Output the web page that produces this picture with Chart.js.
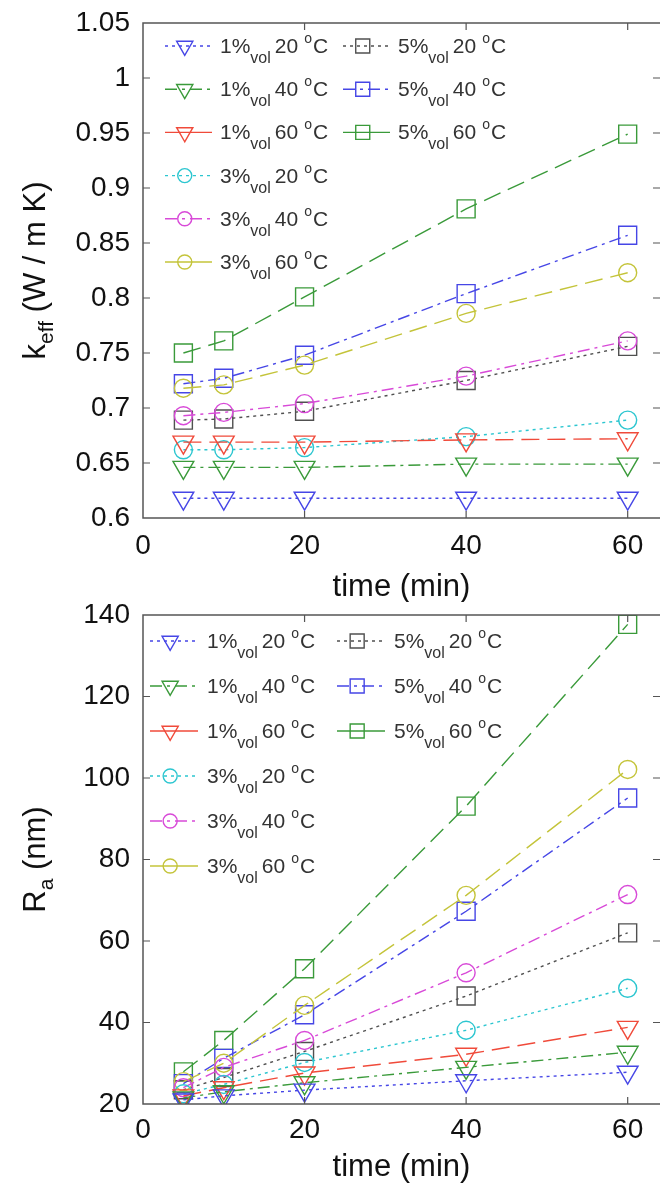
<!DOCTYPE html>
<html>
<head>
<meta charset="utf-8">
<script src="https://cdn.jsdelivr.net/npm/chart.js"></script>
<style>
  html, body { margin: 0; padding: 0; background: #fff; overflow: hidden; }
  body { width: 660px; height: 1188px; position: relative; }
  canvas { position: absolute; left: 0; }
  #keffChart { top: 0; }
  #raChart { top: 596px; }
</style>
</head>
<body>
<canvas id="keffChart" width="680" height="602"></canvas>
<canvas id="raChart" width="680" height="592"></canvas>
<script>
// sampling times (min) and legend pieces
const times = [5, 10, 20, 40, 60];
const concentrations = ['1%', '1%', '1%', '3%', '3%', '3%', '5%', '5%', '5%'];
const temperatures = ['20', '40', '60', '20', '40', '60', '20', '40', '60'];

const timeTicks = [0, 20, 40, 60];
const keffTicks = [0.6, 0.65, 0.7, 0.75, 0.8, 0.85, 0.9, 0.95, 1, 1.05];
const keffTickLabels = ['0.6', '0.65', '0.7', '0.75', '0.8', '0.85', '0.9', '0.95', '1', '1.05'];
const raTicks = [20, 40, 60, 80, 100, 120, 140];
const raTickLabels = ['20', '40', '60', '80', '100', '120', '140'];

// k_eff (W / m K)
const keff1_20 = [0.618, 0.618, 0.618, 0.618, 0.618];
const keff1_40 = [0.646, 0.646, 0.646, 0.649, 0.649];
const keff1_60 = [0.669, 0.669, 0.669, 0.671, 0.672];
const keff3_20 = [0.662, 0.662, 0.664, 0.674, 0.689];
const keff3_40 = [0.693, 0.696, 0.704, 0.729, 0.761];
const keff3_60 = [0.718, 0.721, 0.739, 0.786, 0.823];
const keff5_20 = [0.689, 0.690, 0.697, 0.725, 0.756];
const keff5_40 = [0.722, 0.727, 0.748, 0.804, 0.857];
const keff5_60 = [0.750, 0.761, 0.801, 0.881, 0.949];

// R_a (nm)
const ra1_20 = [21.0, 22.0, 23.4, 25.7, 27.8];
const ra1_40 = [21.5, 23.0, 25.2, 29.0, 32.7];
const ra1_60 = [22.0, 24.0, 27.6, 32.2, 38.8];
const ra3_20 = [22.5, 24.8, 30.2, 38.1, 48.4];
const ra3_40 = [24.0, 29.0, 35.6, 52.2, 71.4];
const ra3_60 = [25.5, 30.0, 44.2, 71.2, 102.1];
const ra5_20 = [23.5, 26.5, 32.9, 46.5, 62.0];
const ra5_40 = [25.0, 31.2, 41.9, 67.3, 95.1];
const ra5_60 = [27.9, 35.6, 53.2, 93.1, 137.7];

const blue = '#4646e6', green = '#3a9a3a', red = '#f04a3a', cyan = '#2cc6d0',
      magenta = '#d84ad8', yellow = '#c4c43a', gray = '#505050';
const dotted = [3, 4], dashDot = [12, 5, 3, 5], dashed = [18, 8];

const seriesStyles = [
  { color: blue, dash: dotted, legendDash: dotted, marker: 'triangle', rot: 180, r: 12 },
  { color: green, dash: dashDot, legendDash: dashDot, marker: 'triangle', rot: 180, r: 12 },
  { color: red, dash: dashed, legendDash: [], marker: 'triangle', rot: 180, r: 12 },
  { color: cyan, dash: dotted, legendDash: dotted, marker: 'circle', rot: 0, r: 9 },
  { color: magenta, dash: dashDot, legendDash: dashDot, marker: 'circle', rot: 0, r: 9 },
  { color: yellow, dash: dashed, legendDash: [], marker: 'circle', rot: 0, r: 9 },
  { color: gray, dash: dotted, legendDash: dotted, marker: 'rect', rot: 0, r: 12.7 },
  { color: blue, dash: dashDot, legendDash: dashDot, marker: 'rect', rot: 0, r: 12.7 },
  { color: green, dash: dashed, legendDash: [], marker: 'rect', rot: 0, r: 12.7 }
];

const FONT = 'Liberation Sans, Arial, Helvetica, sans-serif';

function makeSets(seriesList) {
  return seriesList.map((vals, i) => {
    const st = seriesStyles[i];
    return {
      label: concentrations[i] + 'vol ' + temperatures[i] + ' °C',
      pct: concentrations[i],
      temp: temperatures[i],
      legendDash: st.legendDash,
      data: times.map((t, j) => ({ x: t, y: vals[j] })),
      borderColor: st.color,
      borderWidth: 1.4,
      borderDash: st.dash,
      tension: 0,
      fill: false,
      pointStyle: st.marker,
      rotation: st.rot,
      pointRotation: st.rot,
      pointRadius: st.r,
      pointBorderWidth: 1.4,
      pointBorderColor: st.color,
      pointBackgroundColor: 'rgba(0,0,0,0)'
    };
  });
}

// axes box with inward ticks, matlab style
const framePlugin = {
  id: 'frame',
  afterDraw(chart) {
    const { ctx, chartArea: a, scales } = chart;
    const xs = scales.x, ys = scales.y;
    const tl = 7;
    ctx.save();
    ctx.strokeStyle = '#555';
    ctx.lineWidth = 1.5;
    ctx.beginPath();
    ctx.moveTo(a.right + 2, a.top); ctx.lineTo(a.left, a.top);
    ctx.lineTo(a.left, a.bottom); ctx.lineTo(a.right + 2, a.bottom);
    ctx.stroke();
    ctx.lineWidth = 1.2;
    ctx.beginPath();
    xs.ticks.forEach(t => {
      const px = xs.getPixelForValue(t.value);
      if (px <= a.left + 1) return;
      ctx.moveTo(px, a.bottom); ctx.lineTo(px, a.bottom - tl);
      ctx.moveTo(px, a.top); ctx.lineTo(px, a.top + tl);
    });
    ys.ticks.forEach(t => {
      const py = ys.getPixelForValue(t.value);
      if (py <= a.top + 1 || py >= a.bottom - 1) return;
      ctx.moveTo(a.left, py); ctx.lineTo(a.left + tl, py);
      ctx.moveTo(a.right, py); ctx.lineTo(a.right - tl, py);
    });
    ctx.stroke();
    ctx.restore();
  }
};

// legend with subscript "vol" and superscript "o"
const legendPlugin = {
  id: 'matLegend',
  afterDraw(chart, args, opts) {
    const { ctx } = chart;
    ctx.save();
    chart.data.datasets.forEach((ds, i) => {
      const col = i < opts.rows ? 0 : 1;
      const row = i < opts.rows ? i : i - opts.rows;
      const x0 = opts.x[col];
      const y = opts.y0 + row * opts.dy;
      ctx.strokeStyle = ds.borderColor;
      ctx.lineWidth = 1.4;
      ctx.setLineDash(ds.legendDash);
      ctx.beginPath();
      ctx.moveTo(x0, y); ctx.lineTo(x0 + opts.lineLen, y);
      ctx.stroke();
      ctx.setLineDash([]);
      ctx.fillStyle = 'rgba(0,0,0,0)';
      Chart.helpers.drawPoint(ctx, {
        pointStyle: ds.pointStyle, rotation: ds.pointRotation,
        radius: ds.pointRadius * 0.78, borderWidth: 1.4
      }, x0 + opts.lineLen * 0.42, y);
      // text
      let tx = x0 + opts.lineLen + opts.gap;
      const base = y + 7;
      ctx.fillStyle = '#333';
      ctx.textBaseline = 'alphabetic';
      ctx.textAlign = 'left';
      ctx.font = '21px ' + FONT;
      ctx.fillText(ds.pct, tx, base);
      tx += ctx.measureText(ds.pct).width;
      ctx.font = '16px ' + FONT;
      ctx.fillText('vol', tx, base + 10);
      tx += ctx.measureText('vol').width + 4;
      ctx.font = '21px ' + FONT;
      ctx.fillText(ds.temp, tx, base);
      tx += ctx.measureText(ds.temp).width + 6;
      ctx.font = '14px ' + FONT;
      ctx.fillText('o', tx, base - 10);
      tx += ctx.measureText('o').width + 1;
      ctx.font = '21px ' + FONT;
      ctx.fillText('C', tx, base);
    });
    ctx.restore();
  }
};

// rotated y title with subscript
const yTitlePlugin = {
  id: 'yTitle',
  afterDraw(chart, args, opts) {
    const { ctx, chartArea: a } = chart;
    ctx.save();
    ctx.fillStyle = '#111';
    ctx.textBaseline = 'alphabetic';
    ctx.textAlign = 'left';
    const big = '31px ' + FONT, small = '21px ' + FONT;
    ctx.font = big;
    const w1 = ctx.measureText(opts.main).width;
    const w3 = ctx.measureText(opts.rest).width;
    ctx.font = small;
    const w2 = ctx.measureText(opts.sub).width;
    const total = w1 + w2 + w3;
    ctx.translate(opts.x, (a.top + a.bottom) / 2);
    ctx.rotate(-Math.PI / 2);
    let tx = -total / 2;
    ctx.font = big;
    ctx.fillText(opts.main, tx, 0);
    tx += w1;
    ctx.font = small;
    ctx.fillText(opts.sub, tx, 8);
    tx += w2;
    ctx.font = big;
    ctx.fillText(opts.rest, tx, 0);
    ctx.restore();
  }
};

function makeChart(canvasId, seriesList, cfg) {
  const tickFont = { family: FONT, size: 28, lineHeight: 1 };
  return new Chart(document.getElementById(canvasId), {
    type: 'line',
    data: { datasets: makeSets(seriesList) },
    options: {
      responsive: false,
      animation: false,
      events: [],
      layout: { padding: { top: cfg.padTop, right: 20, left: 0, bottom: 0 } },
      scales: {
        x: {
          type: 'linear', min: 0, max: 64,
          afterBuildTicks: s => { s.ticks = timeTicks.map(v => ({ value: v })); },
          afterFit: s => { s.height = cfg.xHeight; },
          grid: { display: false }, border: { display: false },
          ticks: { padding: cfg.xTickPad, color: '#111', font: tickFont, maxRotation: 0,
                   callback: v => String(v) },
          title: { display: true, text: 'time (min)', color: '#111',
                   font: { family: FONT, size: 31, lineHeight: 1 },
                   padding: { top: 0, bottom: cfg.titlePad } }
        },
        y: {
          type: 'linear', min: cfg.yMin, max: cfg.yMax,
          afterBuildTicks: s => { s.ticks = cfg.yTicks.map(v => ({ value: v })); },
          afterFit: s => { s.width = 143; },
          grid: { display: false }, border: { display: false },
          ticks: { padding: 5, color: '#111', font: tickFont,
                   callback: (v, idx) => cfg.yLabels[idx] }
        }
      },
      plugins: {
        legend: { display: false },
        tooltip: { enabled: false },
        matLegend: cfg.legend,
        yTitle: cfg.yTitle
      }
    },
    plugins: [framePlugin, legendPlugin, yTitlePlugin]
  });
}

makeChart('keffChart',
  [keff1_20, keff1_40, keff1_60, keff3_20, keff3_40, keff3_60, keff5_20, keff5_40, keff5_60],
  {
    padTop: 23, xHeight: 84, xTickPad: 6, titlePad: -1,
    yMin: 0.6, yMax: 1.05, yTicks: keffTicks, yLabels: keffTickLabels,
    legend: { x: [165, 343], y0: 46, dy: 43.2, rows: 6, lineLen: 47, gap: 8 },
    yTitle: { main: 'k', sub: 'eff', rest: ' (W / m K)', x: 45 }
  });

// chart area of this one starts 19px down its canvas, so the canvas sits at 596
makeChart('raChart',
  [ra1_20, ra1_40, ra1_60, ra3_20, ra3_40, ra3_60, ra5_20, ra5_40, ra5_60],
  {
    padTop: 15, xHeight: 84, xTickPad: 4, titlePad: 5,
    yMin: 20, yMax: 140, yTicks: raTicks, yLabels: raTickLabels,
    legend: { x: [150, 337], y0: 45, dy: 45, rows: 6, lineLen: 48, gap: 9 },
    yTitle: { main: 'R', sub: 'a', rest: ' (nm)', x: 45 }
  });
</script>
</body>
</html>
